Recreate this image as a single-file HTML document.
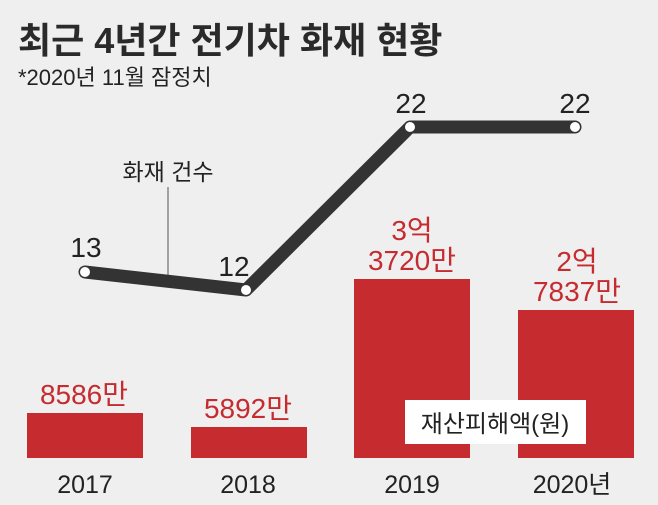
<!DOCTYPE html>
<html><head><meta charset="utf-8"><style>
body{margin:0;background:#efefef;}
svg{display:block;}
text{font-family:"Liberation Sans","Noto Sans CJK KR",sans-serif;}
</style></head><body>
<svg width="658" height="505" viewBox="0 0 658 505">
<rect width="658" height="505" fill="#efefef"/>
<text x="18" y="53" font-size="36" font-weight="bold" fill="#2a2a2a">최근 4년간 전기차 화재 현황</text>
<text x="18" y="85" font-size="22" fill="#222">*2020년 11월 잠정치</text>
<rect x="27" y="413" width="116" height="45" fill="#c62b2f"/>
<rect x="191" y="427" width="116" height="31" fill="#c62b2f"/>
<rect x="354" y="279" width="116" height="179" fill="#c62b2f"/>
<rect x="518" y="310" width="116" height="148" fill="#c62b2f"/>
<rect x="405" y="400" width="181" height="44" fill="#fff"/>
<text x="495" y="432" font-size="24" text-anchor="middle" fill="#222">재산피해액(원)</text>
<g font-size="28" fill="#c62b2f" text-anchor="middle">
<text x="84" y="404">8586만</text>
<text x="248" y="418">5892만</text>
<text x="412" y="240">3억</text>
<text x="412" y="270">3720만</text>
<text x="577" y="271">2억</text>
<text x="577" y="301">7837만</text>
</g>
<g font-size="25" fill="#222" text-anchor="middle">
<text x="85" y="493">2017</text>
<text x="248" y="493">2018</text>
<text x="412" y="493">2019</text>
<text x="572" y="493">2020년</text>
</g>
<line x1="168" y1="187" x2="168" y2="276" stroke="#555" stroke-width="1"/>
<text x="168" y="180" font-size="23" fill="#222" text-anchor="middle">화재 건수</text>
<polyline points="85,272 246,290 410,127 575,127" fill="none" stroke="#333" stroke-width="13" stroke-linejoin="round" stroke-linecap="round"/>
<g fill="#fff"><circle cx="85" cy="272" r="5"/><circle cx="246" cy="290" r="5"/><circle cx="410" cy="127" r="5"/><circle cx="575" cy="127" r="5"/></g>
<g font-size="28" fill="#222" text-anchor="middle">
<text x="86" y="257">13</text>
<text x="234" y="276">12</text>
<text x="411" y="113">22</text>
<text x="575" y="113">22</text>
</g>
</svg>
</body></html>
